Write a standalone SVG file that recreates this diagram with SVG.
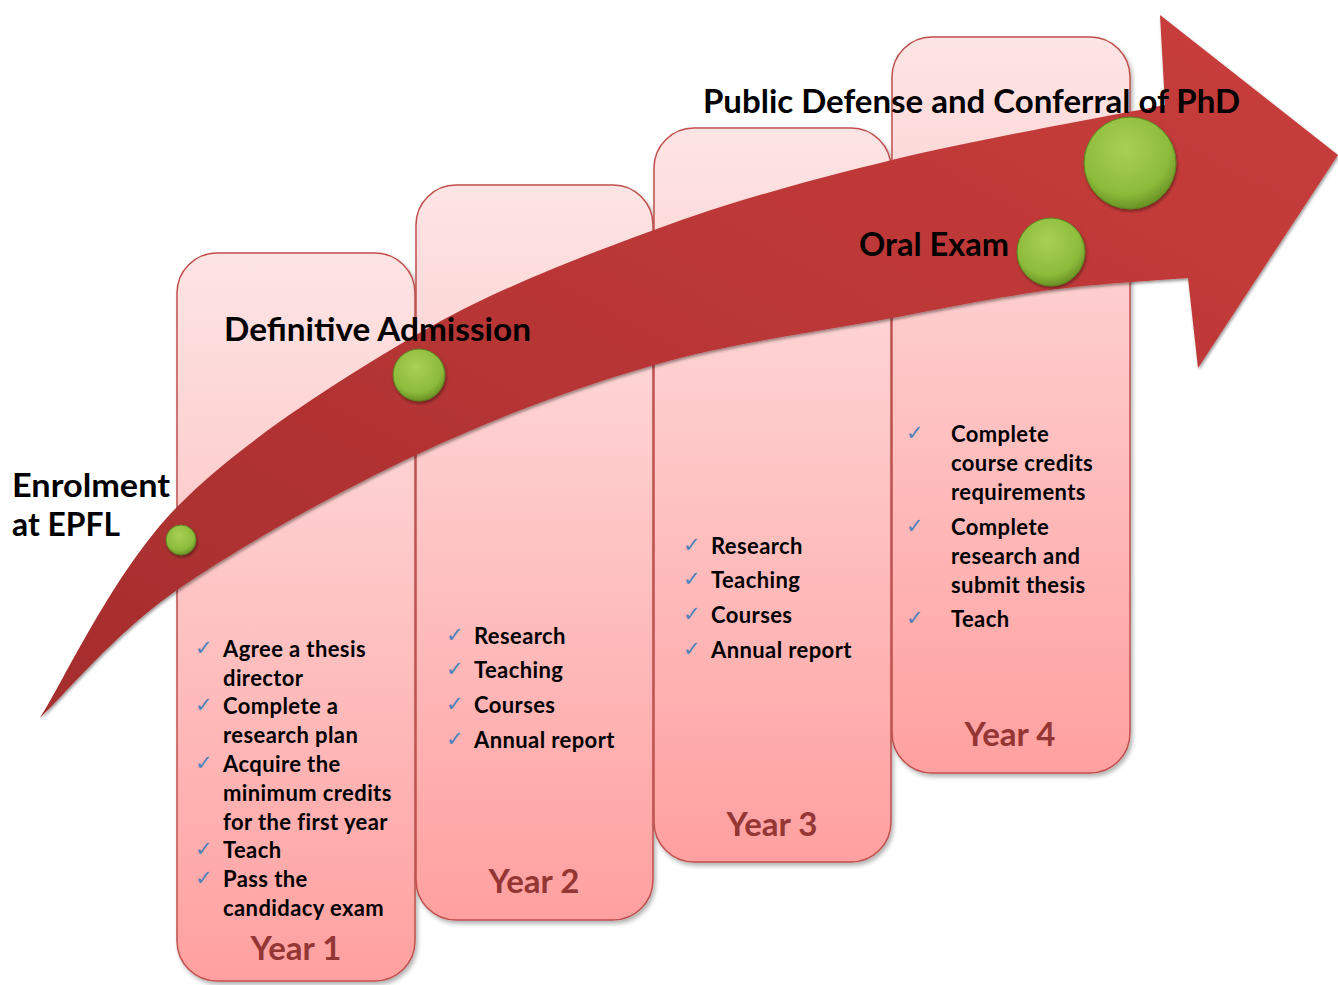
<svg xmlns="http://www.w3.org/2000/svg" width="1338" height="985" viewBox="0 0 1338 985">
<defs>
<linearGradient id="boxg" x1="0" y1="0" x2="0" y2="1">
<stop offset="0" stop-color="#fde5e5"/>
<stop offset="1" stop-color="#ffa0a0"/>
</linearGradient>
<linearGradient id="arrg" x1="0" y1="1" x2="1" y2="0">
<stop offset="0" stop-color="#a52d2d"/>
<stop offset="0.5" stop-color="#b93636"/>
<stop offset="1" stop-color="#c83d3b"/>
</linearGradient>
<radialGradient id="dotg" cx="0.45" cy="0.35" r="0.65">
<stop offset="0" stop-color="#a9d055"/>
<stop offset="0.75" stop-color="#8cbb3a"/>
<stop offset="1" stop-color="#6a9226"/>
</radialGradient>
<filter id="sh" x="-10%" y="-10%" width="120%" height="120%">
<feDropShadow dx="2" dy="3" stdDeviation="2" flood-color="#000" flood-opacity="0.3"/>
</filter>
<filter id="dsh" x="-30%" y="-30%" width="160%" height="160%">
<feDropShadow dx="1" dy="2" stdDeviation="1.5" flood-color="#000" flood-opacity="0.4"/>
</filter>
</defs>
<style>
.box{fill:url(#boxg);stroke:#c0504d;stroke-width:1.5;filter:url(#sh)}
.t{font-family:Lato,"Open Sans",sans-serif;font-weight:bold;fill:#000}
.li{font-size:22px;letter-spacing:0.4px}
.ck{font-family:"DejaVu Sans",sans-serif;font-size:21px;fill:#4f81bd}
.yr{font-family:Lato,"Open Sans",sans-serif;font-weight:bold;font-size:33px;fill:#943634;text-anchor:middle}
.lbl{font-size:33px}
.dot{fill:url(#dotg);stroke:#5d8420;stroke-width:1;filter:url(#dsh)}
</style>
<rect width="1338" height="985" fill="#fff"/>
<g id="year1"><rect class="box" x="177" y="253" width="238" height="728" rx="40"/>
<g class="t li">
<text x="223" y="657">Agree a thesis</text>
<text x="223" y="686">director</text>
<text x="223" y="714">Complete a</text>
<text x="223" y="743">research plan</text>
<text x="223" y="772">Acquire the</text>
<text x="223" y="801">minimum credits</text>
<text x="223" y="830">for the first year</text>
<text x="223" y="858">Teach</text>
<text x="223" y="887">Pass the</text>
<text x="223" y="916">candidacy exam</text>
</g>
<g class="ck"><text x="195" y="655">✓</text><text x="195" y="712">✓</text><text x="195" y="770">✓</text><text x="195" y="856">✓</text><text x="195" y="885">✓</text></g>
<text class="yr" x="296" y="960">Year 1</text>
</g>
<g id="year2"><rect class="box" x="416" y="185" width="237" height="735" rx="40"/>
<g class="t li">
<text x="474" y="644">Research</text>
<text x="474" y="678">Teaching</text>
<text x="474" y="713">Courses</text>
<text x="474" y="748">Annual report</text>
</g>
<g class="ck"><text x="446" y="642">✓</text><text x="446" y="676">✓</text><text x="446" y="711">✓</text><text x="446" y="746">✓</text></g>
<text class="yr" x="534" y="893">Year 2</text>
</g>
<g id="year3"><rect class="box" x="654" y="128" width="237" height="734" rx="40"/>
<g class="t li">
<text x="711" y="554">Research</text>
<text x="711" y="588">Teaching</text>
<text x="711" y="623">Courses</text>
<text x="711" y="658">Annual report</text>
</g>
<g class="ck"><text x="683" y="552">✓</text><text x="683" y="586">✓</text><text x="683" y="621">✓</text><text x="683" y="656">✓</text></g>
<text class="yr" x="772" y="836">Year 3</text>
</g>
<g id="year4"><rect class="box" x="892" y="37" width="238" height="736" rx="40"/>
<g class="t li">
<text x="951" y="442">Complete</text>
<text x="951" y="471">course credits</text>
<text x="951" y="500">requirements</text>
<text x="951" y="535">Complete</text>
<text x="951" y="564">research and</text>
<text x="951" y="593">submit thesis</text>
<text x="951" y="627">Teach</text>
</g>
<g class="ck"><text x="906" y="440">✓</text><text x="906" y="533">✓</text><text x="906" y="625">✓</text></g>
<text class="yr" x="1010" y="746">Year 4</text>
</g>
<g id="connectors">
<path id="arrow" fill="url(#arrg)" filter="url(#dsh)" d="M40,718 C62.8,682.8 114.3,570.8 177,507 C239.7,443.2 336.5,381.2 416,335 C495.5,288.8 574.7,259.2 654,230 C733.3,200.8 806.8,180.8 892,160 C977.2,139.2 1119.5,114.2 1165,105 L1160,15 L1338,155 L1198,368 L1188,278 C1165,280 1099.3,283.3 1050,290 C1000.7,296.7 958,305.5 892,318 C826,330.5 733.3,342.2 654,365 C574.7,387.8 495.5,417.5 416,455 C336.5,492.5 239.7,546.2 177,590 C114.3,633.8 62.8,696.7 40,718 Z"/>
</g>
<g id="enrolment"><circle class="dot" cx="181" cy="540" r="15"/>
<text class="t lbl" x="12" y="497" textLength="158" lengthAdjust="spacingAndGlyphs">Enrolment</text><text class="t lbl" x="12" y="536" textLength="108" lengthAdjust="spacingAndGlyphs">at EPFL</text></g>
<g id="admission"><text class="t lbl" x="224" y="341" textLength="307" lengthAdjust="spacingAndGlyphs">Definitive Admission</text><circle class="dot" cx="419" cy="375" r="26"/></g>
<g id="oral"><circle class="dot" cx="1051" cy="252" r="34"/><text class="t lbl" x="859" y="256" textLength="150" lengthAdjust="spacingAndGlyphs">Oral Exam</text></g>
<g id="defense"><text class="t lbl" x="703" y="113" textLength="537" lengthAdjust="spacingAndGlyphs">Public Defense and Conferral of PhD</text><circle class="dot" cx="1130" cy="163" r="46"/></g>
</svg>
